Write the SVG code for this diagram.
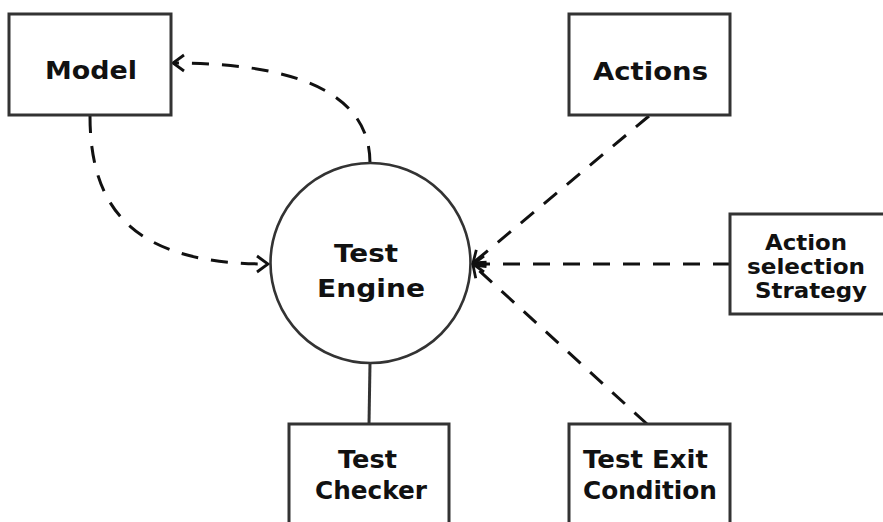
<svg xmlns="http://www.w3.org/2000/svg" width="883" height="522" viewBox="0 0 883 522">
<defs>
<style>
.box{fill:#fff;stroke:#333;stroke-width:3}
.lbl{font-family:"DejaVu Sans","Liberation Sans",sans-serif;font-weight:bold;font-size:24px;fill:#111;text-anchor:middle}
.sm{font-size:21px}
.dash{fill:none;stroke:#111;stroke-width:3;stroke-dasharray:17 13}
.solid{fill:none;stroke:#333;stroke-width:3}
</style>
<marker id="arr" viewBox="-13 -10 15 20" refX="0" refY="0" markerWidth="15" markerHeight="20" markerUnits="userSpaceOnUse" orient="auto">
<path d="M-11,-8 L0,0 L-11,8" fill="none" stroke="#111" stroke-width="2.8"/>
</marker>
</defs>
<g id="connectors">
<path class="dash" d="M370,163 C370,90 290,63 173,63" marker-end="url(#arr)"/>
<path class="dash" d="M90,116 C90,215 140,264 268,264" marker-end="url(#arr)"/>
<path class="dash" d="M649,116 L473,263" marker-end="url(#arr)"/>
<path class="dash" d="M730,264 L473,264" marker-end="url(#arr)"/>
<path class="dash" d="M647,424 L473,265" marker-end="url(#arr)"/>
<path class="solid" d="M370,363 L369,424"/>
</g>
<g id="model">
<rect class="box" x="9" y="14" width="162" height="101"/>
<text class="lbl" x="91" y="79" textLength="92" lengthAdjust="spacingAndGlyphs">Model</text>
</g>
<g id="actions">
<rect class="box" x="569" y="14" width="161" height="101"/>
<text class="lbl" x="650.5" y="80" textLength="115" lengthAdjust="spacingAndGlyphs">Actions</text>
</g>
<g id="test-engine">
<circle cx="370.5" cy="263" r="100" fill="#fff" stroke="#333" stroke-width="2.6"/>
<text class="lbl" x="366" y="262" textLength="64" lengthAdjust="spacingAndGlyphs">Test</text>
<text class="lbl" x="371" y="297" textLength="108" lengthAdjust="spacingAndGlyphs">Engine</text>
</g>
<g id="strategy">
<rect class="box" x="730" y="214" width="162" height="100"/>
<text class="lbl sm" x="806" y="250" textLength="82" lengthAdjust="spacingAndGlyphs">Action</text>
<text class="lbl sm" x="806" y="274" textLength="118" lengthAdjust="spacingAndGlyphs">selection</text>
<text class="lbl sm" x="811" y="298" textLength="112" lengthAdjust="spacingAndGlyphs">Strategy</text>
</g>
<g id="test-checker">
<rect class="box" x="289" y="424" width="160" height="110"/>
<text class="lbl" x="367.5" y="468" textLength="59" lengthAdjust="spacingAndGlyphs">Test</text>
<text class="lbl" x="371" y="499" textLength="112" lengthAdjust="spacingAndGlyphs">Checker</text>
</g>
<g id="test-exit">
<rect class="box" x="569" y="424" width="161" height="110"/>
<text class="lbl" x="645.5" y="468" textLength="125" lengthAdjust="spacingAndGlyphs">Test Exit</text>
<text class="lbl" x="650" y="499" textLength="134" lengthAdjust="spacingAndGlyphs">Condition</text>
</g>
</svg>
